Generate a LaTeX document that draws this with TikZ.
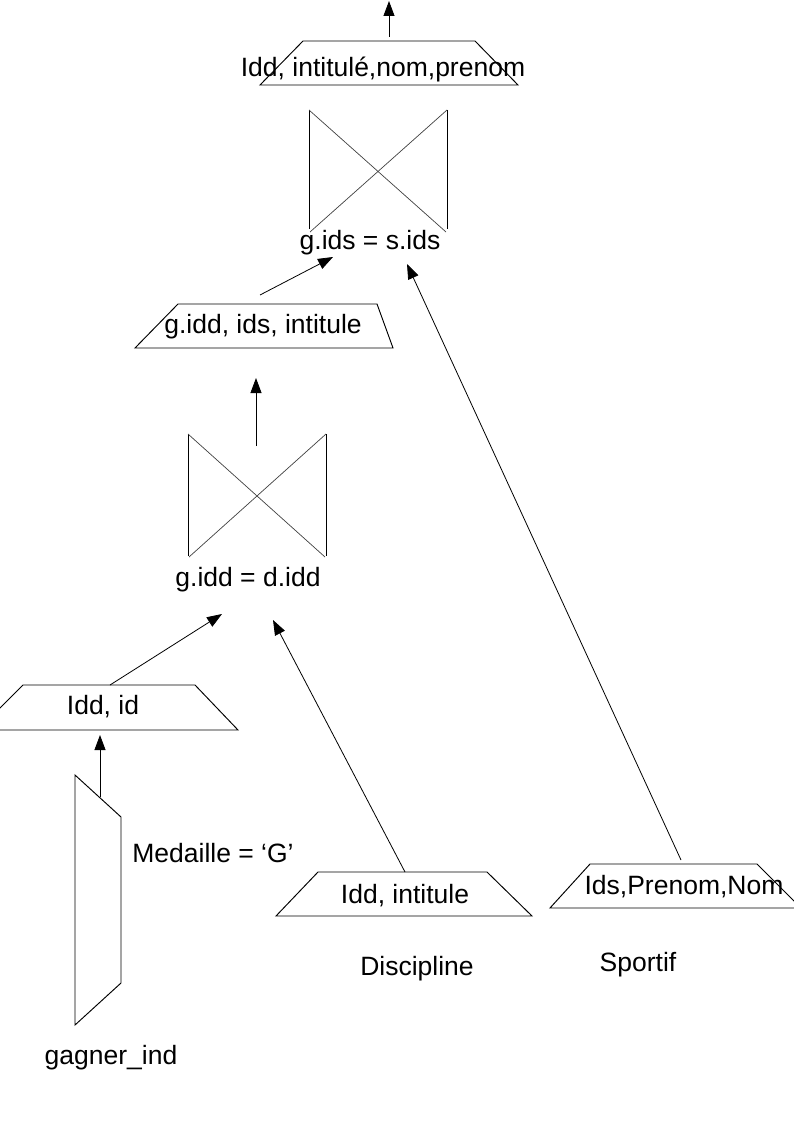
\documentclass[tikz,border=0pt]{standalone}
\usepackage{fontspec}
\setmainfont{Liberation Sans}
\usetikzlibrary{arrows.meta}
\begin{document}
\begin{tikzpicture}[x=1pt,y=-1pt,
  shp/.style={line width=0.95pt,black},
  thin/.style={line width=0.7pt,black!75},
  conn/.style={line width=0.8pt,black,-{Triangle[length=15pt,width=11pt]}},
  lbl/.style={inner sep=0pt,font=\fontsize{26.5}{31}\selectfont}]
\useasboundingbox (0,0) rectangle (794,1123);
\clip (0,0) rectangle (794,1123);
% ---- top projection
\draw[shp] (303,41) -- (475,41) -- (518,85) -- (260,85) -- cycle;
\node[lbl] (ptop) at (383,69) {Idd, intitulé,nom,prenom};
\coordinate (ptopT) at (389,37);
\coordinate (out) at (389,1);
% ---- top join
\draw[shp] (309,110) -- (309,229);
\draw[shp] (447,110) -- (447,229);
\draw[thin] (309,110) -- (446,232);
\draw[thin] (447,110) -- (310,232);
\node[lbl] (j1) at (370,243) {g.ids = s.ids};
\coordinate (j1L) at (333,257);
\coordinate (j1R) at (407,264);
% ---- projection g.idd
\draw[shp] (178,304) -- (377,304) -- (393,348) -- (135,348) -- cycle;
\node[lbl] (p2) at (263,327) {g.idd, ids, intitule};
\coordinate (p2T) at (260,295);
\coordinate (p2B) at (256,378);
% ---- lower join
\draw[shp] (188,434) -- (188,556);
\draw[shp] (326,434) -- (326,556);
\draw[thin] (188,434) -- (325,557);
\draw[thin] (326,434) -- (189,557);
\coordinate (j2T) at (256,446);
\node[lbl] (j2) at (248,580) {g.idd = d.idd};
\coordinate (j2L) at (222,614);
\coordinate (j2R) at (273,620);
% ---- projection Idd, id
\draw[shp] (23,685) -- (195,685) -- (238,730) -- (-22,730) -- cycle;
\node[lbl] (p3) at (103,707) {Idd, id};
\coordinate (p3T) at (110,685);
\coordinate (p3B) at (100,735);
% ---- selection
\draw[shp] (75,775) -- (121,817) -- (121,983) -- (75,1025) -- cycle;
\coordinate (selT) at (100,797);
\node[lbl] (cond) at (213,853) {Medaille = ‘G’};
\node[lbl] (gi) at (111,1058) {gagner\_ind};
% ---- projection Discipline
\draw[shp] (318,872) -- (487,872) -- (532,916) -- (276,916) -- cycle;
\node[lbl] (pd) at (405,896) {Idd, intitule};
\coordinate (pdT) at (405,872);
\node[lbl] (disc) at (417,969) {Discipline};
% ---- projection Sportif
\draw[shp] (590,864) -- (757,864) -- (801,908) -- (550,908) -- cycle;
\node[lbl] (ps) at (684,887) {Ids,Prenom,Nom};
\coordinate (psT) at (681,860);
\node[lbl] (sp) at (638,965) {Sportif};
% ---- connectors
\draw[conn] (ptopT) -- (out);
\draw[conn] (p2T) -- (j1L);
\draw[conn] (psT) -- (j1R);
\draw[conn] (j2T) -- (p2B);
\draw[conn] (p3T) -- (j2L);
\draw[conn] (pdT) -- (j2R);
\draw[conn] (selT) -- (p3B);
\end{tikzpicture}
\end{document}
